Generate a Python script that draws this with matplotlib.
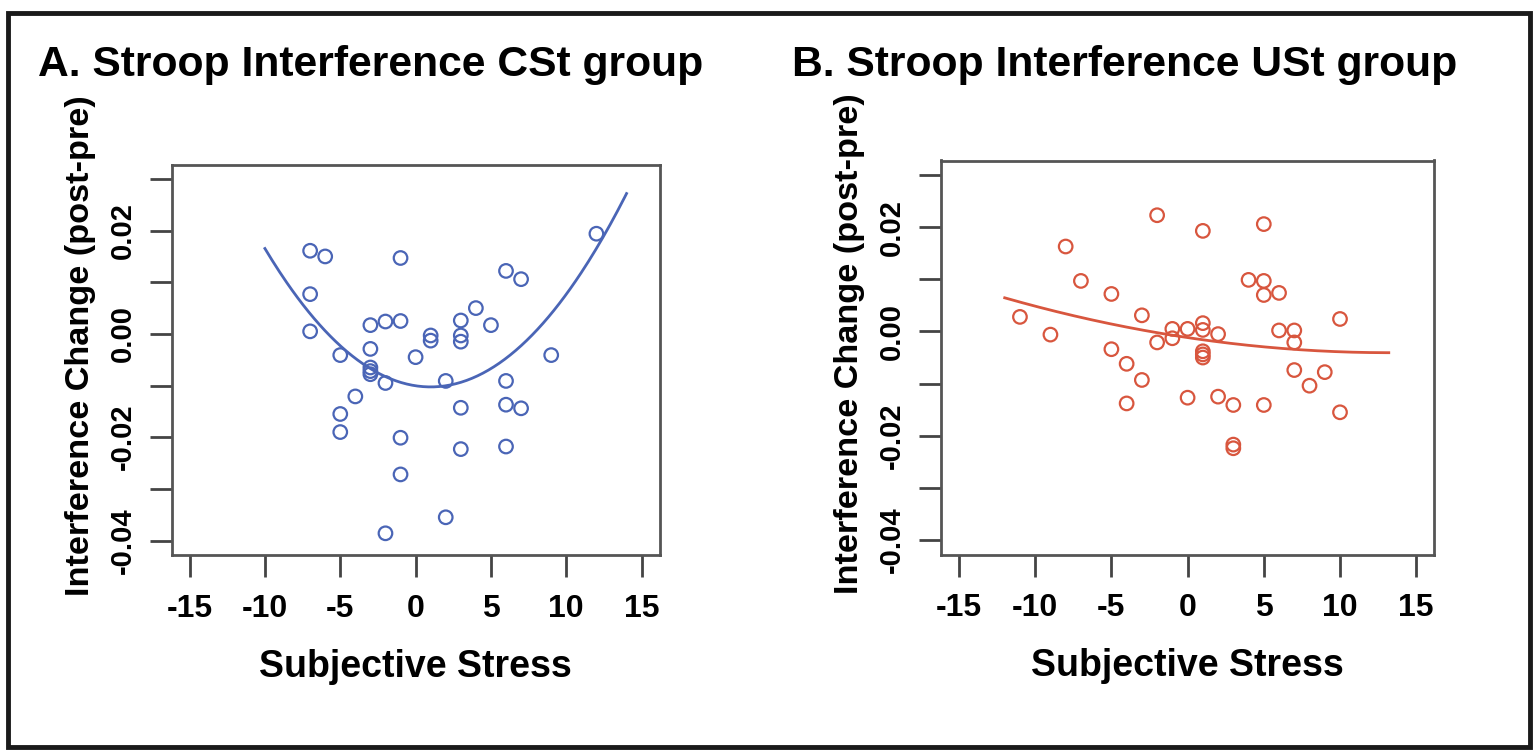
import numpy as np
import matplotlib
matplotlib.use("Agg")
import matplotlib.pyplot as plt
from matplotlib.patches import Rectangle

plt.rcParams['font.family'] = ['Liberation Sans', 'DejaVu Sans']
plt.rcParams['font.weight'] = 'bold'

# ---------------- data ----------------
# A. CSt group
cst_stress = [-7, -6, -1, 12, 6, 7, -7, 4, -7, -3, -2, -1, 3, 5,
              1, 1, 3, 3, -5, -3, 0, -3, -3, -3, -2, 2, 9, 6,
              -4, 3, 6, 7, -5, -5, -1, 3, 6, -1, 2, -2]
cst_change = [0.0161, 0.0150, 0.0147, 0.0194, 0.0122, 0.0106, 0.0077, 0.0050, 0.0005, 0.0017,
              0.0024, 0.0025, 0.0026, 0.0017, -0.0003, -0.0013, -0.0003, -0.0015, -0.0041, -0.0029,
              -0.0045, -0.0065, -0.0072, -0.0078, -0.0095, -0.0091, -0.0041, -0.0091, -0.0121, -0.0143,
              -0.0137, -0.0144, -0.0155, -0.0190, -0.0201, -0.0223, -0.0218, -0.0272, -0.0355, -0.0386]

# B. USt group
ust_stress = [-2, 1, 5, -8, -7, 4, 5, 5, 6, -5, -11, -3, 10, -9, -1, -1,
              0, 1, 1, 2, -2, 6, 7, 7, 1, 1, 1, -5, -4, -3, 7, 9, 8,
              -4, 0, 2, 3, 5, 10, 3, 3]
ust_change = [0.0223, 0.0193, 0.0206, 0.0163, 0.0097, 0.0099, 0.0097, 0.0070, 0.0074, 0.0072,
              0.0028, 0.0031, 0.0024, -0.0006, 0.0005, -0.0013, 0.0005, 0.0016, 0.0003, -0.0005,
              -0.0021, 0.0002, 0.0002, -0.0021, -0.0038, -0.0044, -0.0050, -0.0034, -0.0062, -0.0093,
              -0.0074, -0.0078, -0.0104, -0.0138, -0.0127, -0.0125, -0.0141, -0.0141, -0.0155, -0.0217,
              -0.0224]

# x span of the fitted quadratic curves
cst_fit_span = (-10, 14)
ust_fit_span = (-12, 13.2)

x_ticks = [-15, -10, -5, 0, 5, 10, 15]
x_ticklabels = ["-15", "-10", "-5", "0", "5", "10", "15"]
y_ticks = [-0.04, -0.03, -0.02, -0.01, 0.0, 0.01, 0.02, 0.03]
y_ticklabels = ["-0.04", "", "-0.02", "", "0.00", "", "0.02", ""]

titles = ["A. Stroop Interference CSt group", "B. Stroop Interference USt group"]
xlabel = "Subjective Stress"
ylabel = "Interference Change (post-pre)"

BLUE = "#4a65b6"
RED = "#d8563e"

W, H = 1537, 754
fig = plt.figure(figsize=(W / 100, H / 100), dpi=100)


def px_axes(left, top, right, bottom):
    return fig.add_axes([left / W, 1 - bottom / H, (right - left) / W, (bottom - top) / H])


def panel(ax, xs, ys, span, color):
    ax.scatter(xs, ys, s=95, facecolors='none', edgecolors=color, linewidths=1.6, zorder=3)
    coef = np.polyfit(xs, ys, 2)
    xx = np.linspace(span[0], span[1], 200)
    ax.plot(xx, np.polyval(coef, xx), color=color, lw=2.0, zorder=2)

    ax.set_xlim(-16.2, 16.2)
    ax.set_ylim(-0.0428, 0.0328)
    ax.set_xticks(x_ticks)
    ax.set_xticklabels(x_ticklabels, fontsize=23, fontweight='bold')
    ax.set_yticks(y_ticks)
    ax.set_yticklabels(y_ticklabels, fontsize=21, fontweight='bold', rotation=90, va='center')
    ax.tick_params(axis='x', length=16, width=2, color='#444444', pad=12)
    ax.tick_params(axis='y', length=16, width=2, color='#444444', pad=9)
    for sp in ax.spines.values():
        sp.set_color('#555555')
        sp.set_linewidth(2)
    ax.set_xlabel(xlabel, fontsize=27, fontweight='bold', labelpad=18)
    ax.set_ylabel(ylabel, fontsize=24.7, fontweight='bold', labelpad=9, y=0.535)


axA = px_axes(171.5, 164.5, 659.7, 555)
panel(axA, cst_stress, cst_change, cst_fit_span, BLUE)

axB = px_axes(940.7, 160.5, 1434.5, 554.6)
panel(axB, ust_stress, ust_change, ust_fit_span, RED)

fig.text(38 / W, 1 - 65 / H, titles[0], fontsize=30.7, fontweight='bold', va='center', ha='left')
fig.text(792 / W, 1 - 65 / H, titles[1], fontsize=30.7, fontweight='bold', va='center', ha='left')

# outer frame
fig.patches.append(Rectangle((7.5 / W, 1 - 747 / H), 1522 / W, 734 / H,
                             transform=fig.transFigure, fill=False,
                             edgecolor='#1a1a1a', linewidth=3.5))

fig.savefig("out.png", dpi=100)
